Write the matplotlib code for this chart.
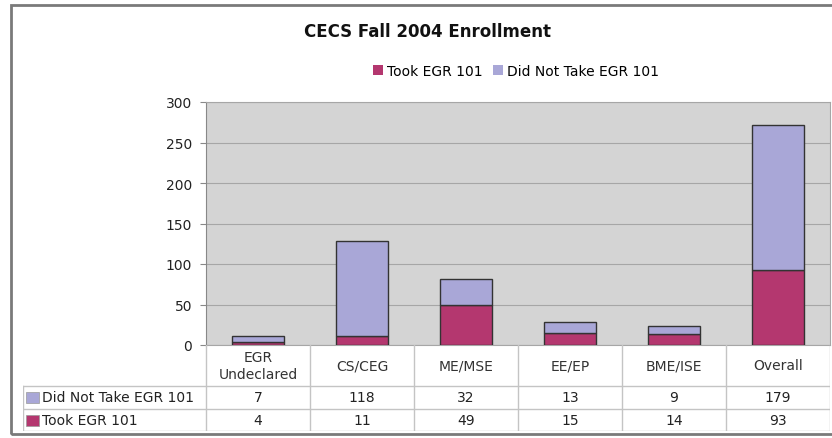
import numpy as np
import matplotlib.pyplot as plt
from matplotlib.patches import Rectangle, Patch

# CECS enrollment by program, fall 2004
programs = ["EGR\nUndeclared", "CS/CEG", "ME/MSE", "EE/EP", "BME/ISE", "Overall"]
took = [4, 11, 49, 15, 14, 93]
did_not = [7, 118, 32, 13, 9, 179]
series_names = ["Took EGR 101", "Did Not Take EGR 101"]

c_took = "#B4376F"
c_not = "#A9A7D7"
fs = 10

W, H = 832, 439
fig = plt.figure(figsize=(W / 100, H / 100), dpi=100, facecolor="white")

def frac(x0, y0, x1, y1):
    # pixel box -> figure fraction [left, bottom, width, height]
    return [x0 / W, 1 - y1 / H, (x1 - x0) / W, (y1 - y0) / H]

# outer chart frame
fig.patches.append(Rectangle((11 / W, 1 - 435 / H), 1, (435 - 6) / H,
                             transform=fig.transFigure, fill=False,
                             edgecolor="#7a7a7a", linewidth=2))

px_left, px_right = 206, 830
ax = fig.add_axes(frac(px_left, 103, px_right, 346))
ax.set_facecolor("#D4D4D4")

x = np.arange(len(programs))
ax.bar(x, took, width=0.5, color=c_took, edgecolor="#333333", linewidth=1, zorder=3)
ax.bar(x, did_not, bottom=took, width=0.5, color=c_not, edgecolor="#333333",
       linewidth=1, zorder=3)

ax.set_xlim(-0.5, len(programs) - 0.5)
ax.set_ylim(0, 300)
ax.set_yticks(range(0, 301, 50))
ax.yaxis.grid(True, color="#A6A6A6", linewidth=0.8, zorder=0)
ax.set_xticks([])
ax.tick_params(axis="y", labelsize=fs, length=4, color="#888888", labelcolor="#222222", pad=6)
for side in ["top", "right", "bottom"]:
    ax.spines[side].set_color("#A6A6A6")
ax.spines["left"].set_color("#888888")

fig.text(0.514, 1 - 32 / H, "CECS Fall 2004 Enrollment", ha="center", va="center",
         fontsize=12, fontweight="bold", color="#111111")

handles = [Patch(facecolor=c_took, edgecolor="none"), Patch(facecolor=c_not, edgecolor="none")]
fig.legend(handles, series_names, loc="center", bbox_to_anchor=(516 / W, 1 - 72 / H), ncol=2,
           frameon=False, fontsize=fs, handlelength=0.75, handleheight=0.75,
           handletextpad=0.3, columnspacing=0.7, borderpad=0)

# data table under the plot, sharing the category scale
cat_w = (px_right - px_left) / len(programs)
t_left = 23
tab = fig.add_axes(frac(t_left, 346, px_right, 432))
xl = -0.5 - (px_left - t_left) / cat_w
tab.set_xlim(xl, len(programs) - 0.5)
tab.set_ylim(86, 0)
tab.axis("off")

line_c = "#C4C4C4"
for i in range(len(programs) + 1):
    tab.plot([i - 0.5, i - 0.5], [0, 86], color=line_c, lw=1)
tab.plot([xl, xl], [41, 86], color=line_c, lw=1)
for yy in (41, 64, 86):
    tab.plot([xl, len(programs) - 0.5], [yy, yy], color=line_c, lw=1)

for i, name in enumerate(programs):
    tab.text(i, 20.5, name, ha="center", va="center", fontsize=fs, color="#333333",
             linespacing=1.2)
    tab.text(i, 52.5, str(did_not[i]), ha="center", va="center", fontsize=fs, color="#222222")
    tab.text(i, 75, str(took[i]), ha="center", va="center", fontsize=fs, color="#222222")

sq = 13 / cat_w
for yy, col, name in ((52.5, c_not, series_names[1]), (75, c_took, series_names[0])):
    tab.add_patch(Rectangle((xl + 3 / cat_w, yy - 5.5), sq, 11, facecolor=col,
                            edgecolor="#999999", linewidth=0.5))
    tab.text(xl + 19 / cat_w, yy, name, ha="left", va="center", fontsize=fs,
             color="#222222")

fig.savefig("out.png", dpi=100, facecolor="white")
